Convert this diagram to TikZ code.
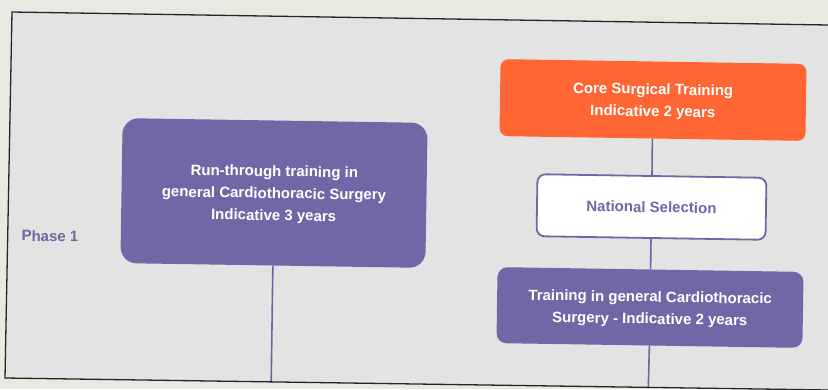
\documentclass[tikz,border=0pt]{standalone}
\usepackage{fontspec}
\setmainfont{Liberation Sans}
\definecolor{cpurple}{HTML}{7068A6}
\definecolor{corange}{HTML}{FF6633}
\definecolor{bgbeige}{HTML}{E9E9E1}
\definecolor{slidegray}{HTML}{E3E3E3}
\definecolor{clinec}{HTML}{6A64A8}
\tikzset{
  box/.style={rectangle, inner sep=0pt, align=center, rotate=-0.9,
    font=\fontsize{15}{22}\selectfont\bfseries},
  multiline/.style={text depth=0pt},
  purplebox/.style={box, multiline, fill=cpurple, text=white},
  orangebox/.style={box, multiline, fill=corange, text=white, rounded corners=8pt},
  selbox/.style={box, fill=white, draw=cpurple, line width=1.8pt, text=cpurple, rounded corners=8pt},
  conn/.style={draw=clinec, line width=1.6pt},
  border/.style={draw=black!85, line width=1.3pt}
}
\begin{document}
\begin{tikzpicture}[x=1pt,y=-1pt]
\useasboundingbox (0,0) rectangle (828,389);
\fill[bgbeige] (0,0) rectangle (828,389);
\fill[slidegray] (12,12) -- (828,25) -- (828,390) -- (5,378) -- cycle;

\node[purplebox, rounded corners=16pt, minimum width=305pt, minimum height=145pt] (left) at (274,193)
  {Run-through training in\\general Cardiothoracic Surgery\\Indicative 3 years};
\node[orangebox, minimum width=306pt, minimum height=77pt] (core) at (653,100)
  {Core Surgical Training\\Indicative 2 years};
\node[selbox, minimum width=229pt, minimum height=62pt] (sel) at (651.5,207)
  {National Selection};
\node[purplebox, rounded corners=10pt, minimum width=306pt, minimum height=76pt] (train) at (650,307.5)
  {Training in general Cardiothoracic\\Surgery - Indicative 2 years};
\node[box, text=cpurple] (phase) at (50,236) {Phase 1};

\coordinate (lend) at (271.2,382);
\coordinate (rend) at (648.3,388);
\draw[conn] (core.south) -- (sel.north);
\draw[conn] (sel.south) -- (train.north);
\draw[conn] (left.south) -- (lend);
\draw[conn] (train.south) -- (rend);

\draw[border] (828,25) -- (12,12) -- (5,378) -- (828,390);
\end{tikzpicture}
\end{document}
